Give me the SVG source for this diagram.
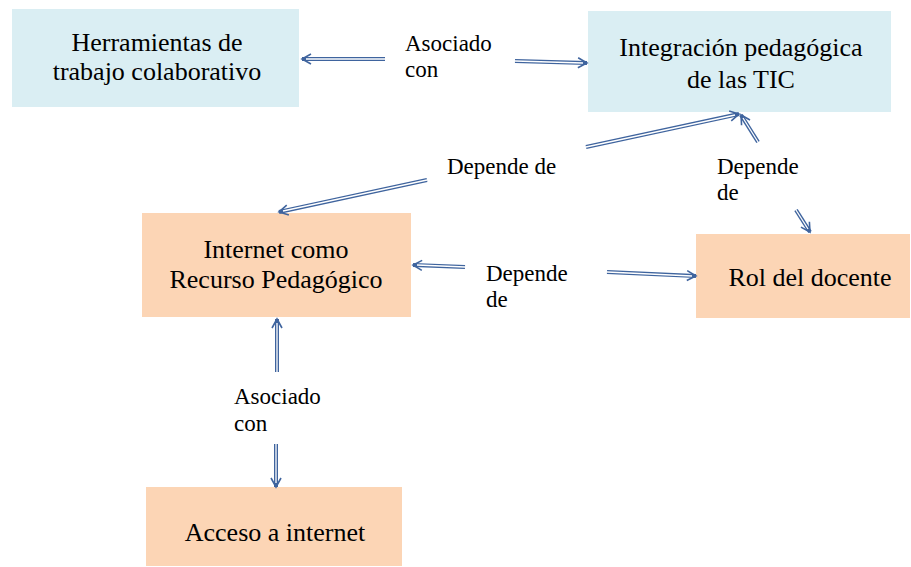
<svg xmlns="http://www.w3.org/2000/svg" width="911" height="567" viewBox="0 0 911 567">
<style>
.blue{fill:#daeef3}
.peach{fill:#fcd5b5}
.bt{font-family:"Liberation Serif","Times New Roman",serif;font-size:26px;fill:#000;text-anchor:middle}
.lb{font-family:"Liberation Serif","Times New Roman",serif;font-size:23px;fill:#000}
.out{fill:none;stroke:#3f649e;stroke-width:4}
.in{fill:none;stroke:#ffffff;stroke-width:1.3}
</style>
<defs>
<marker id="ah" markerUnits="userSpaceOnUse" markerWidth="14" markerHeight="14" refX="10" refY="6" orient="auto" viewBox="0 0 14 12">
<path d="M1,1 L10,6 L1,11" fill="none" stroke="#3f649e" stroke-width="1.6"/>
</marker>
</defs>
<rect width="911" height="567" fill="#ffffff"/>
<g id="herramientas">
<rect class="blue" x="12" y="9" width="287" height="98"/>
<text class="bt" x="157" y="51">Herramientas de</text>
<text class="bt" x="157" y="80">trabajo colaborativo</text>
</g>
<g id="integracion">
<rect class="blue" x="588" y="11" width="303" height="101"/>
<text class="bt" x="741" y="56">Integración pedagógica</text>
<text class="bt" x="741" y="88">de las TIC</text>
</g>
<g id="internet">
<rect class="peach" x="142" y="213" width="269" height="104"/>
<text class="bt" x="276" y="258">Internet como</text>
<text class="bt" x="276" y="288">Recurso Pedagógico</text>
</g>
<g id="rol">
<rect class="peach" x="696" y="234" width="214" height="84"/>
<text class="bt" x="810" y="286">Rol del docente</text>
</g>
<g id="acceso">
<rect class="peach" x="146" y="487" width="256" height="79"/>
<text class="bt" x="275" y="541">Acceso a internet</text>
</g>
<g id="connectors">
<path class="out" d="M385,59 L302,59" marker-end="url(#ah)"/>
<path class="in" d="M385,59 L306,59"/>
<path class="out" d="M515,61 L587,63" marker-end="url(#ah)"/>
<path class="in" d="M515,61 L583,63"/>
<path class="out" d="M586,147 L739,114" marker-end="url(#ah)"/>
<path class="in" d="M586,147 L735,115"/>
<path class="out" d="M758,142 L741,115" marker-end="url(#ah)"/>
<path class="in" d="M758,142 L743,118"/>
<path class="out" d="M427,180 L279,212" marker-end="url(#ah)"/>
<path class="in" d="M427,180 L283,211"/>
<path class="out" d="M796,210 L810,232" marker-end="url(#ah)"/>
<path class="in" d="M796,210 L808,229"/>
<path class="out" d="M465,267 L413,265" marker-end="url(#ah)"/>
<path class="in" d="M465,267 L417,265"/>
<path class="out" d="M607,272 L696,276" marker-end="url(#ah)"/>
<path class="in" d="M607,272 L692,276"/>
<path class="out" d="M277,372 L277,319" marker-end="url(#ah)"/>
<path class="in" d="M277,372 L277,323"/>
<path class="out" d="M276,444 L276,487" marker-end="url(#ah)"/>
<path class="in" d="M276,444 L276,483"/>
</g>
<g id="labels">
<text class="lb" x="405" y="51">Asociado</text>
<text class="lb" x="405" y="77">con</text>
<text class="lb" x="447" y="174">Depende de</text>
<text class="lb" x="717" y="174">Depende</text>
<text class="lb" x="717" y="200">de</text>
<text class="lb" x="486" y="281">Depende</text>
<text class="lb" x="486" y="307">de</text>
<text class="lb" x="234" y="404">Asociado</text>
<text class="lb" x="234" y="431">con</text>
</g>
</svg>
